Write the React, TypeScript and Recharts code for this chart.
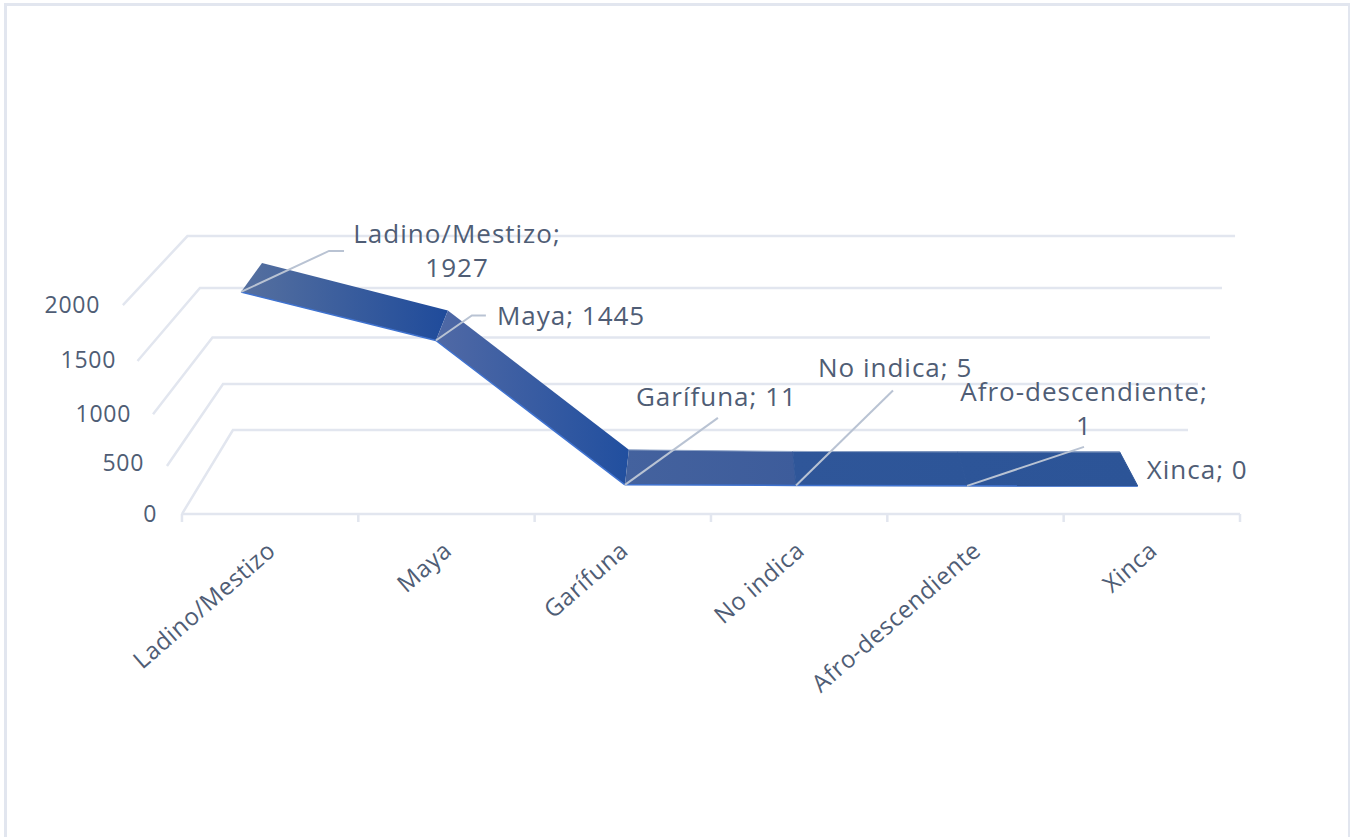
import { ComposedChart, Line, XAxis, YAxis, LabelList } from 'recharts'

const CATEGORIES = ['Ladino/Mestizo', 'Maya', 'Garífuna', 'No indica', 'Afro-descendiente', 'Xinca']
const VALUES = [1927, 1445, 11, 5, 1, 0]
const Y_TICKS = [0, 500, 1000, 1500, 2000]
const X_TICKS = [0, 1, 2, 3, 4, 5, 6]

// perspective of the 3D view, in category widths and pixels
const FRONT_SHIFT = [-0.165, -0.06, 0.012, -0.018, -0.048, -0.08]
const DEPTH_DX = [21, 12, 4, -3, -9, -18]
const DEPTH_DY = [29, 30, 35, 34, 34, 34]

// back wall gridlines, one entry per y tick
const WALL_FRONT_X = [0, -0.085, -0.164, -0.252, -0.335]
const WALL_FRONT_Y = [0, 459, 956, 1464, 2000]
const WALL_BACK_X = [0.289, 0.233, 0.173, 0.102, 0.031]
const WALL_BACK_Y = [804, 1244, 1689, 2163, 2660]
const WALL_END_X = [5.705, 5.762, 5.83, 5.898, 5.972]

const TEXT = '#4f5d75'
const GRID = '#e2e6ef'
const LEADER = '#b9c3d3'
const FONT = '"Open Sans", sans-serif'

const Y_LABEL_RIGHT = [157, 144, 131, 116, 100]
const Y_LABEL_NUDGE = [0, 1, 4, 3, 0]

const FACET_COLORS = [
  ['#56709f', '#1f4b9b'],
  ['#5069a5', '#214f9f'],
  ['#44629e', '#3d5c9b'],
  ['#2f5699', '#2d5598'],
  ['#2d5598', '#2c5497'],
]

const LABEL_LINES = [
  ['Ladino/Mestizo;', '1927'],
  ['Maya; 1445'],
  ['Garífuna; 11'],
  ['No indica; 5'],
  ['Afro-descendiente;', '1'],
  ['Xinca; 0'],
]
// leader bends and text anchor relative to each front point
const LEADERS = [
  [[88, -41], [103, -41]],
  [[36, -25], [50, -25]],
  [[93, -67]],
  [[97, -95]],
  [[117, -39]],
  [],
]
const LABEL_POS = [
  { dx: 216, dy: -49, anchor: 'middle' },
  { dx: 61, dy: -15, anchor: 'start' },
  { dx: 11, dy: -79, anchor: 'start' },
  { dx: 22, dy: -108, anchor: 'start' },
  { dx: 117, dy: -85, anchor: 'middle' },
  { dx: 9, dy: -7, anchor: 'start' },
]

const ribbon = VALUES.map((value, i) => ({ x: i + 0.5 + FRONT_SHIFT[i], value }))
const wallLines = Y_TICKS.map((_, i) => [
  { x: WALL_FRONT_X[i], y: WALL_FRONT_Y[i] },
  { x: WALL_BACK_X[i], y: WALL_BACK_Y[i] },
  { x: WALL_END_X[i], y: WALL_BACK_Y[i] },
])
const floorLine = [{ x: 0, y: 0 }, { x: 6, y: 0 }]

function RibbonFacet({ index, points }: any) {
  const a = points?.[index]
  const b = points?.[index + 1]
  if (!a || !b) return <g key={index} />
  const ax = a.x + DEPTH_DX[index]
  const ay = a.y - DEPTH_DY[index]
  const bx = b.x + DEPTH_DX[index + 1]
  const by = b.y - DEPTH_DY[index + 1]
  // flat facets get a hairline of their own colour so no seam shows between them
  const seam = index >= 3 ? FACET_COLORS[index][0] : 'none'
  return (
    <g key={index}>
      <polygon
        points={`${a.x},${a.y} ${b.x},${b.y} ${bx},${by} ${ax},${ay}`}
        fill={`url(#facet-${index})`}
        stroke={seam}
        strokeWidth={1}
      />
      <line x1={a.x} y1={a.y} x2={b.x} y2={b.y} stroke="#3f72cf" strokeWidth={1.5} />
      {index >= 2 && <line x1={ax} y1={ay} x2={bx} y2={by} stroke="#8ea3c6" strokeWidth={1} />}
    </g>
  )
}

function PointLabel({ x, y, index }: any) {
  const leader = LEADERS[index]
  const pos = LABEL_POS[index]
  return (
    <g>
      {leader.length > 0 && (
        <polyline
          points={[[x, y], ...leader.map(([dx, dy]) => [x + dx, y + dy])].join(' ')}
          fill="none"
          stroke={LEADER}
          strokeWidth={2}
        />
      )}
      {LABEL_LINES[index].map((line, i) => (
        <text
          key={line}
          x={x + pos.dx}
          y={y + pos.dy + i * 34}
          textAnchor={pos.anchor as any}
          fill={TEXT}
          fontSize={26}
          letterSpacing={1}
          fontFamily={FONT}
        >
          {line}
        </text>
      ))}
    </g>
  )
}

function YTick({ y, payload, index }: any) {
  return (
    <text
      x={Y_LABEL_RIGHT[index]}
      y={y + Y_LABEL_NUDGE[index]}
      dy={8}
      textAnchor="end"
      fill={TEXT}
      fontSize={23}
      letterSpacing={0.7}
      fontFamily={FONT}
    >
      {payload.value}
    </text>
  )
}

function XTick({ x, y, payload }: any) {
  const name = CATEGORIES[payload.value]
  // tick marks on the band edges, labels in the middle of the band
  const cx = x + 88 + 7
  const cy = y + 33
  return (
    <g>
      <line x1={x} y1={y - 6} x2={x} y2={y + 2} stroke={GRID} strokeWidth={2.5} />
      {name && (
        <text
          x={cx}
          y={cy}
          textAnchor="end"
          fill={TEXT}
          fontSize={24}
          letterSpacing={0.5}
          fontFamily={FONT}
          transform={`rotate(-41 ${cx} ${cy})`}
        >
          {name}
        </text>
      )}
    </g>
  )
}

export default function App() {
  return (
    <div style={{ position: 'absolute', left: 0, top: 0, width: 1350, height: 837, background: '#fff' }}>
      <div
        style={{
          position: 'absolute',
          left: 4,
          top: 3,
          width: 1341,
          height: 834,
          borderLeft: `3px solid ${GRID}`,
          borderTop: `3px solid ${GRID}`,
          borderRight: `3px solid ${GRID}`,
          boxSizing: 'content-box',
        }}
      />
      <div style={{ position: 'absolute', left: 0, top: 0 }}>
        <ComposedChart width={1350} height={837} margin={{ top: 225, right: 110, bottom: 17, left: 0 }}>
          <defs>
            {FACET_COLORS.map(([from, to], i) => (
              <linearGradient key={i} id={`facet-${i}`} x1="0" y1="0" x2="1" y2="0">
                <stop offset="0%" stopColor={from} />
                <stop offset="100%" stopColor={to} />
              </linearGradient>
            ))}
          </defs>
          <XAxis
            xAxisId="floor"
            dataKey="x"
            type="number"
            domain={[-0.34, 6]}
            allowDataOverflow
            ticks={X_TICKS}
            interval={0}
            axisLine={false}
            tickLine={false}
            tickSize={0}
            tickMargin={0}
            tick={<XTick />}
            height={300}
          />
          <YAxis
            yAxisId="wall"
            type="number"
            domain={[-57, 2766]}
            allowDataOverflow
            ticks={Y_TICKS}
            interval={0}
            axisLine={false}
            tickLine={false}
            tick={<YTick />}
            width={122}
          />
          <YAxis yAxisId="ribbon" type="number" domain={[-338, 2592]} allowDataOverflow hide />
          {wallLines.map((data, i) => (
            <Line
              key={i}
              data={data}
              dataKey="y"
              xAxisId="floor"
              yAxisId="wall"
              type="linear"
              stroke={GRID}
              strokeWidth={2.5}
              dot={false}
              activeDot={false}
              isAnimationActive={false}
            />
          ))}
          <Line
            data={floorLine}
            dataKey="y"
            xAxisId="floor"
            yAxisId="wall"
            type="linear"
            stroke={GRID}
            strokeWidth={2.5}
            dot={false}
            activeDot={false}
            isAnimationActive={false}
          />
          <Line
            data={ribbon}
            dataKey="value"
            xAxisId="floor"
            yAxisId="ribbon"
            type="linear"
            stroke="none"
            dot={(props: any) => <RibbonFacet key={props.index} {...props} />}
            activeDot={false}
            isAnimationActive={false}
          >
            <LabelList dataKey="value" content={<PointLabel />} />
          </Line>
        </ComposedChart>
      </div>
    </div>
  )
}
